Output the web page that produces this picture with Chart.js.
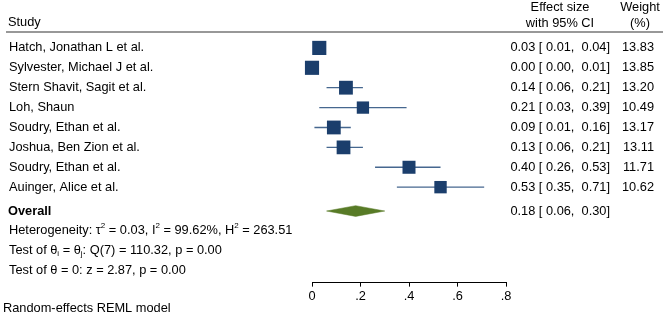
<!DOCTYPE html>
<html>
<head>
<meta charset="utf-8">
<script src="https://cdn.jsdelivr.net/npm/chart.js@4"></script>
<style>
  body { margin: 0; background: #fff; }
  #wrap { width: 668px; height: 318px; }
</style>
</head>
<body>
<div id="wrap"><canvas id="forest" width="668" height="318"></canvas></div>
<script>
// study data
const studies = [
  'Hatch, Jonathan L et al.',
  'Sylvester, Michael J et al.',
  'Stern Shavit, Sagit et al.',
  'Loh, Shaun',
  'Soudry, Ethan et al.',
  'Joshua, Ben Zion et al.',
  'Soudry, Ethan et al.',
  'Auinger, Alice et al.'
];
const effects = [0.03, 0.00, 0.14, 0.21, 0.09, 0.13, 0.40, 0.53];
const ciLower = [0.01, 0.00, 0.06, 0.03, 0.01, 0.06, 0.26, 0.35];
const ciUpper = [0.04, 0.01, 0.21, 0.39, 0.16, 0.21, 0.53, 0.71];
const weights = [13.83, 13.85, 13.20, 10.49, 13.17, 13.11, 11.71, 10.62];
const overall = [0.18, 0.06, 0.30]; // estimate, lower, upper
const xTicks = [0, 0.2, 0.4, 0.6, 0.8];

// heterogeneity / tests
const tau2 = 0.03, i2 = 99.62, h2 = 263.51;
const qDf = 7, qStat = 110.32, qP = 0.00;
const zStat = 2.87, zP = 0.00;

const OVERALL_ROW = 8.2;
const FONT = '"Liberation Sans", Arial, Helvetica, sans-serif';
const SIZE = 12.8;

function fmtCI(e, lo, hi) {
  return e.toFixed(2) + ' [' + lo.toFixed(2).padStart(5) + ', ' + hi.toFixed(2).padStart(5) + ']';
}

function drawRich(ctx, parts, x, y) {
  let cx = x;
  parts.forEach(p => {
    const t = typeof p === 'string' ? p : p[0];
    const mode = typeof p === 'string' ? null : p[1];
    ctx.font = (mode ? 8 : SIZE) + 'px ' + FONT;
    const dy = mode === 'sup' ? -5 : mode === 'sub' ? 3 : 0;
    ctx.fillText(t, cx, y + dy);
    cx += ctx.measureText(t).width;
  });
}

// draws the table text around the plot
const tablePlugin = {
  id: 'forestTable',
  afterDraw(chart) {
    const ctx = chart.ctx;
    const y = chart.scales.y;
    ctx.save();
    ctx.fillStyle = '#000';
    ctx.textBaseline = 'middle';
    ctx.font = SIZE + 'px ' + FONT;

    // header
    ctx.textAlign = 'left';
    ctx.fillText('Study', 8, 22);
    ctx.textAlign = 'center';
    ctx.fillText('Effect size', 560, 7);
    ctx.fillText('with 95% CI', 560, 23);
    ctx.fillText('Weight', 640, 7);
    ctx.fillText('(%)', 640, 23);

    ctx.strokeStyle = '#333';
    ctx.lineWidth = 1.2;
    ctx.beginPath();
    ctx.moveTo(6, 32);
    ctx.lineTo(663, 32);
    ctx.stroke();

    // study rows
    studies.forEach((s, i) => {
      const py = y.getPixelForValue(i);
      ctx.textAlign = 'left';
      ctx.fillText(s, 9, py);
      ctx.textAlign = 'right';
      ctx.fillText(fmtCI(effects[i], ciLower[i], ciUpper[i]), 610, py);
      ctx.fillText(weights[i].toFixed(2), 654, py);
    });

    // overall
    const oy = y.getPixelForValue(OVERALL_ROW);
    ctx.textAlign = 'right';
    ctx.fillText(fmtCI(overall[0], overall[1], overall[2]), 610, oy);
    ctx.textAlign = 'left';
    ctx.font = 'bold ' + SIZE + 'px ' + FONT;
    ctx.fillText('Overall', 8, oy);

    drawRich(ctx, ['Heterogeneity: \u03c4', ['2', 'sup'], ' = ' + tau2.toFixed(2) + ', I', ['2', 'sup'],
      ' = ' + i2.toFixed(2) + '%, H', ['2', 'sup'], ' = ' + h2.toFixed(2)], 9, y.getPixelForValue(9.2));
    drawRich(ctx, ['Test of \u03b8', ['i', 'sub'], ' = \u03b8', ['j', 'sub'],
      ': Q(' + qDf + ') = ' + qStat.toFixed(2) + ', p = ' + qP.toFixed(2)], 9, y.getPixelForValue(10.2));
    drawRich(ctx, ['Test of \u03b8 = 0: z = ' + zStat.toFixed(2) + ', p = ' + zP.toFixed(2)], 9, y.getPixelForValue(11.17));

    ctx.font = SIZE + 'px ' + FONT;
    ctx.fillText('Random-effects REML model', 3, 308);
    ctx.restore();
  }
};

// confidence interval lines, one per study
const ciSets = studies.map((s, i) => ({
  type: 'line',
  data: [{ x: ciLower[i], y: i }, { x: ciUpper[i], y: i }],
  borderColor: '#46678f',
  borderWidth: 1.3,
  pointRadius: 0,
  clip: false,
  order: 2
}));

const squares = {
  type: 'scatter',
  data: effects.map((e, i) => ({ x: e, y: i })),
  pointStyle: 'rect',
  pointRadius: ctx => 3.8 * Math.sqrt(weights[ctx.dataIndex]) / Math.SQRT2,
  backgroundColor: '#1b3e6c',
  borderWidth: 0,
  clip: false,
  order: 0
};

const dh = 0.27;
const diamond = {
  type: 'line',
  data: [
    { x: overall[1], y: OVERALL_ROW },
    { x: overall[0], y: OVERALL_ROW - dh },
    { x: overall[2], y: OVERALL_ROW },
    { x: overall[0], y: OVERALL_ROW + dh },
    { x: overall[1], y: OVERALL_ROW }
  ],
  borderColor: '#587b27',
  backgroundColor: '#587b27',
  borderWidth: 0.5,
  pointRadius: 0,
  fill: 'shape',
  tension: 0,
  order: 1
};

new Chart(document.getElementById('forest'), {
  type: 'scatter',
  data: { datasets: [...ciSets, squares, diamond] },
  options: {
    responsive: false,
    animation: false,
    layout: { padding: { left: 312, right: 162, top: 32, bottom: 12 } },
    plugins: { legend: { display: false }, tooltip: { enabled: false } },
    scales: {
      x: {
        type: 'linear',
        min: 0,
        max: 0.8,
        afterBuildTicks: scale => { scale.ticks = xTicks.map(v => ({ value: v })); },
        ticks: {
          color: '#000',
          padding: 2,
          font: { family: FONT, size: SIZE },
          callback: v => v === 0 ? '0' : String(+v.toFixed(1)).replace(/^0/, '')
        },
        grid: { drawOnChartArea: false, drawTicks: true, tickLength: 4, color: '#000' },
        border: { display: true, color: '#000', width: 1 }
      },
      y: {
        type: 'linear',
        display: false,
        reverse: true,
        min: -0.8,
        max: 11.8
      }
    }
  },
  plugins: [tablePlugin]
});
</script>
</body>
</html>
